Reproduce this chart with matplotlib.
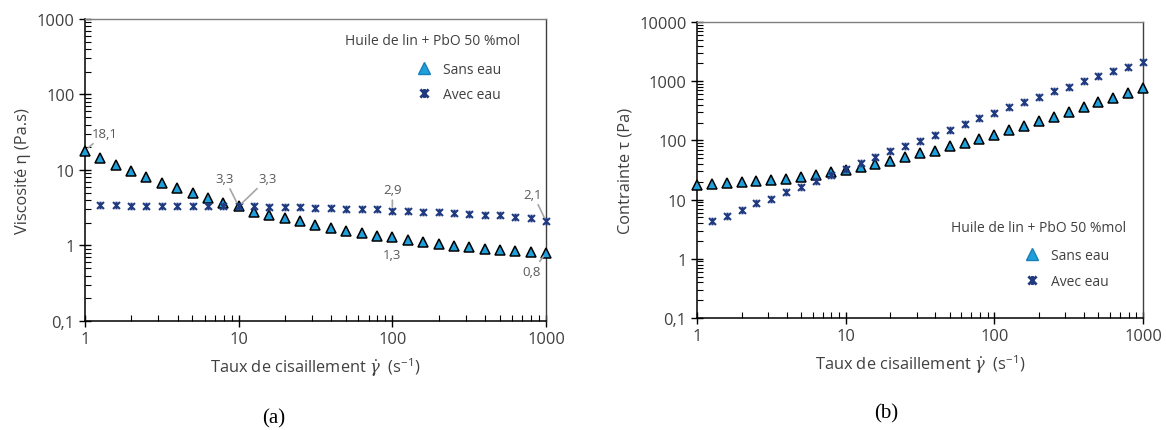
import numpy as np
import matplotlib.pyplot as plt
from matplotlib.lines import Line2D
from matplotlib.path import Path
from matplotlib.ticker import FixedLocator, LogLocator, FixedFormatter, NullFormatter

plt.rcParams['font.family'] = ['Open Sans', 'DejaVu Sans']
plt.rcParams['mathtext.fontset'] = 'dejavuserif'

TEXT = '#404040'
LIGHT_BLUE = '#1ea0dc'
NAVY = '#1f3a7f'
LEADER = '#a6a6a6'

# Excel-like star marker: X with a vertical stroke
STAR = Path([(-1, -1), (1, 1), (-1, 1), (1, -1), (0, -1.1), (0, 1.1)],
            [Path.MOVETO, Path.LINETO, Path.MOVETO, Path.LINETO,
             Path.MOVETO, Path.LINETO])

# shear rate (s-1), 10 points per decade
shear_sans = [1, 1.26, 1.58, 2, 2.51, 3.16, 3.98, 5.01, 6.31, 7.94,
              10, 12.6, 15.8, 20, 25.1, 31.6, 39.8, 50.1, 63.1, 79.4,
              100, 126, 158, 200, 251, 316, 398, 501, 631, 794, 1000]
shear_avec = shear_sans[1:]

# (a) viscosity, Pa.s
visc_sans = [18.1, 14.6, 11.7, 9.8, 8.1, 6.7, 5.7, 5.0, 4.2, 3.65,
             3.3, 2.8, 2.56, 2.31, 2.13, 1.87, 1.71, 1.57, 1.46, 1.35,
             1.3, 1.18, 1.10, 1.06, 0.98, 0.95, 0.90, 0.88, 0.85, 0.81, 0.8]
visc_avec = [3.4, 3.4, 3.35, 3.35, 3.35, 3.35, 3.35, 3.35, 3.35,
             3.3, 3.3, 3.25, 3.2, 3.2, 3.1, 3.1, 3.05, 3.0, 3.0,
             2.9, 2.85, 2.8, 2.75, 2.7, 2.65, 2.55, 2.5, 2.4, 2.3, 2.1]

# (b) shear stress, Pa
stress_sans = [17.9, 18.4, 18.8, 19.6, 20.4, 21.4, 22.3, 24.4, 26.4, 28.9,
               31.5, 36, 40.5, 45.4, 52, 60.5, 67, 80, 91, 106,
               125, 150, 175, 210, 250, 298, 360, 440, 525, 635, 765]
stress_avec = [4.4, 5.3, 6.7, 8.6, 10.3, 13.3, 16.6, 20.9, 26.2,
               33, 41.3, 51.9, 65.5, 81.4, 99, 123, 152, 189, 236,
               287, 362, 440, 547, 675, 807, 1007, 1224, 1486, 1757, 2090]

yticks_a = [0.1, 1, 10, 100, 1000]
yticks_b = [0.1, 1, 10, 100, 1000, 10000]
xticks = [1, 10, 100, 1000]

XLABEL = r'Taux de cisaillement $\dot{\gamma}$  (s$^{\mathregular{-1}}$)'


def fmt(v):
    return ('%g' % v).replace('.', ',')


def style_axes(ax, yticks):
    ax.set_xscale('log')
    ax.set_yscale('log')
    ax.set_xlim(xticks[0], xticks[-1])
    ax.set_ylim(yticks[0], yticks[-1])
    ax.xaxis.set_major_locator(FixedLocator(xticks))
    ax.xaxis.set_major_formatter(FixedFormatter([fmt(v) for v in xticks]))
    ax.yaxis.set_major_locator(FixedLocator(yticks))
    ax.yaxis.set_major_formatter(FixedFormatter([fmt(v) for v in yticks]))
    ax.xaxis.set_minor_locator(LogLocator(base=10, subs=np.arange(2, 10)))
    ax.yaxis.set_minor_locator(LogLocator(base=10, subs=np.arange(2, 10)))
    ax.xaxis.set_minor_formatter(NullFormatter())
    ax.yaxis.set_minor_formatter(NullFormatter())
    ax.tick_params(which='major', direction='inout', length=9, width=1,
                   labelsize=11.8, labelcolor=TEXT, pad=3)
    ax.tick_params(which='minor', direction='in', length=4, width=0.8)
    for s in ['left', 'bottom']:
        ax.spines[s].set_color('black')
        ax.spines[s].set_linewidth(1.1)
    ax.spines['top'].set_color('#7f7f7f')
    ax.spines['right'].set_color('#404040')
    ax.spines['top'].set_linewidth(1.0)
    ax.spines['right'].set_linewidth(1.0)
    ax.set_xlabel(XLABEL, fontsize=11.8, color=TEXT, labelpad=6)


def draw_series(ax, ys_sans, ys_avec):
    ax.plot(shear_sans, ys_sans, linestyle='none', marker='^', markersize=6.8,
            markerfacecolor=LIGHT_BLUE, markeredgecolor='black',
            markeredgewidth=1.1, clip_on=False, zorder=3)
    ax.plot(shear_avec, ys_avec, linestyle='none', marker=STAR,
            markersize=5.5, color=NAVY, markeredgewidth=1.5,
            clip_on=False, zorder=4)


def add_legend(ax, title_xy, leg_xy):
    ax.text(title_xy[0], title_xy[1], 'Huile de lin + PbO 50 %mol',
            transform=ax.transAxes, ha='center', va='center',
            fontsize=10, color=TEXT)
    handles = [Line2D([], [], linestyle='none', marker='^', markersize=9,
                      markerfacecolor=LIGHT_BLUE, markeredgecolor='#1a7fb8',
                      label='Sans eau'),
               Line2D([], [], linestyle='none', marker=STAR,
                      markersize=6.5, color=NAVY, markeredgewidth=2,
                      label='Avec eau')]
    leg = ax.legend(handles=handles, loc='upper left', bbox_to_anchor=leg_xy,
                    frameon=False, borderaxespad=0, borderpad=0,
                    handlelength=1.0, handletextpad=0.9, labelspacing=0.75,
                    fontsize=10)
    for t in leg.get_texts():
        t.set_color(TEXT)


def note(ax, x, y, label, off, line=True):
    props = dict(arrowstyle='-', color=LEADER, lw=1.2, shrinkA=1, shrinkB=3) if line else None
    ax.annotate(label, xy=(x, y), xytext=off, textcoords='offset pixels',
                ha='center', va='center', fontsize=9.5, color='#595959',
                arrowprops=props, zorder=5)


fig = plt.figure(figsize=(11.66, 4.31), dpi=100)
ax_a = fig.add_axes([0.0729, 0.2529, 0.3954, 0.7007])
ax_b = fig.add_axes([0.5978, 0.2599, 0.3825, 0.6868])

# ---- (a) viscosity
style_axes(ax_a, yticks_a)
draw_series(ax_a, visc_sans, visc_avec)
ax_a.set_ylabel('Viscosité η (Pa.s)', fontsize=11.8, color=TEXT, labelpad=4)
add_legend(ax_a, (0.753, 0.930), (0.72, 0.858))

i10 = shear_sans.index(10)
i100 = shear_sans.index(100)
note(ax_a, shear_sans[0], visc_sans[0], fmt(visc_sans[0]), (20, 17))
note(ax_a, shear_sans[i10], visc_sans[i10], fmt(visc_sans[i10]), (-14, 28))
note(ax_a, shear_avec[i10 - 1], visc_avec[i10 - 1], fmt(visc_avec[i10 - 1]), (29, 28))
note(ax_a, shear_avec[i100 - 1], visc_avec[i100 - 1], fmt(visc_avec[i100 - 1]), (0, 21))
note(ax_a, shear_avec[-1], visc_avec[-1], fmt(visc_avec[-1]), (-13, 27))
note(ax_a, shear_sans[i100], visc_sans[i100], fmt(visc_sans[i100]), (0, -18), line=False)
note(ax_a, shear_sans[-1], visc_sans[-1], fmt(visc_sans[-1]), (-14, -19))

# ---- (b) stress
style_axes(ax_b, yticks_b)
draw_series(ax_b, stress_sans, stress_avec)
ax_b.set_ylabel('Contrainte τ (Pa)', fontsize=11.8, color=TEXT, labelpad=4)
add_legend(ax_b, (0.765, 0.307), (0.735, 0.236))

fig.text(274 / 1166, 1 - 419 / 431, '(a)', ha='center', va='center',
         fontsize=15, family='Liberation Serif')
fig.text(886 / 1166, 1 - 414 / 431, '(b)', ha='center', va='center',
         fontsize=15, family='Liberation Serif')

fig.savefig('out.png', dpi=100)
